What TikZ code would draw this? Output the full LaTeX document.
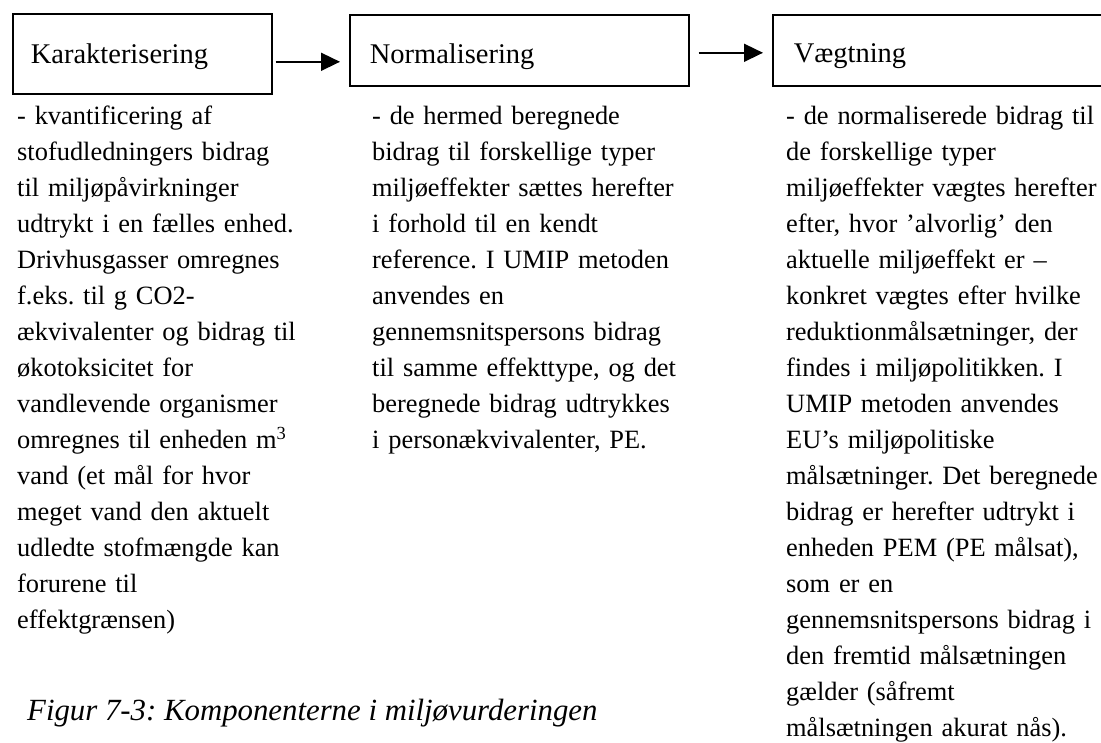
\documentclass[tikz,border=0pt]{standalone}
\usepackage{fontspec}
\setmainfont{Liberation Serif}
\usetikzlibrary{arrows.meta}
\frenchspacing

\tikzset{
  box/.style={draw, line width=1.6pt, anchor=north west, inner ysep=0pt, align=left, font=\fontsize{28.5}{34}\selectfont},
  col/.style={anchor=base west, inner sep=0pt, text width=330pt, align=left, font=\fontsize{26.4}{36}\selectfont},
  flow/.style={-{Triangle[length=19pt,width=18pt]}, line width=1.6pt}
}

\begin{document}
\begin{tikzpicture}[x=1pt,y=-1pt]
\clip (0,0) rectangle (1101,743);
\node[box,inner xsep=18pt,text width=223pt,text height=50pt,text depth=30pt] (kar) at (12,13) {Karakterisering};
\node[box,inner xsep=20pt,text width=299pt,text height=49pt,text depth=22pt] (norm) at (349,14) {Normalisering};
\node[box,inner xsep=21pt,text width=296pt,text height=48pt,text depth=23pt] (veg) at (772,14) {Vægtning};
\draw[flow] ([shift={(3,8)}]kar.east) -- ([shift={(-9,11.5)}]norm.west);
\draw[flow] ([shift={(9,2.5)}]norm.east) -- ([shift={(-9,2.5)}]veg.west);
\node[col] (kartxt) at (17,125) {- kvantificering af\\
stofudledningers bidrag\\
til miljøpåvirkninger\\
udtrykt i en fælles enhed.\\
Drivhusgasser omregnes\\
f.eks. til g CO2-\\
ækvivalenter og bidrag til\\
økotoksicitet for\\
vandlevende organismer\\
omregnes til enheden m\textsuperscript{3}\\
vand (et mål for hvor\\
meget vand den aktuelt\\
udledte stofmængde kan\\
forurene til\\
effektgrænsen)};
\node[col] (normtxt) at (372,125) {- de hermed beregnede\\
bidrag til forskellige typer\\
miljøeffekter sættes herefter\\
i forhold til en kendt\\
reference. I UMIP metoden\\
anvendes en\\
gennemsnitspersons bidrag\\
til samme effekttype, og det\\
beregnede bidrag udtrykkes\\
i personækvivalenter, PE.};
\node[col] (vegtxt) at (786,125) {- de normaliserede bidrag til\\
de forskellige typer\\
miljøeffekter vægtes herefter\\
efter, hvor ’alvorlig’ den\\
aktuelle miljøeffekt er –\\
konkret vægtes efter hvilke\\
reduktionmålsætninger, der\\
findes i miljøpolitikken. I\\
UMIP metoden anvendes\\
EU’s miljøpolitiske\\
målsætninger. Det beregnede\\
bidrag er herefter udtrykt i\\
enheden PEM (PE målsat),\\
som er en\\
gennemsnitspersons bidrag i\\
den fremtid målsætningen\\
gælder (såfremt\\
målsætningen akurat nås).};
\node[anchor=base west,inner sep=0pt,font=\fontsize{30.8}{36}\selectfont\itshape] (cap) at (27,720) {Figur 7-3: Komponenterne i miljøvurderingen};
\end{tikzpicture}
\end{document}
